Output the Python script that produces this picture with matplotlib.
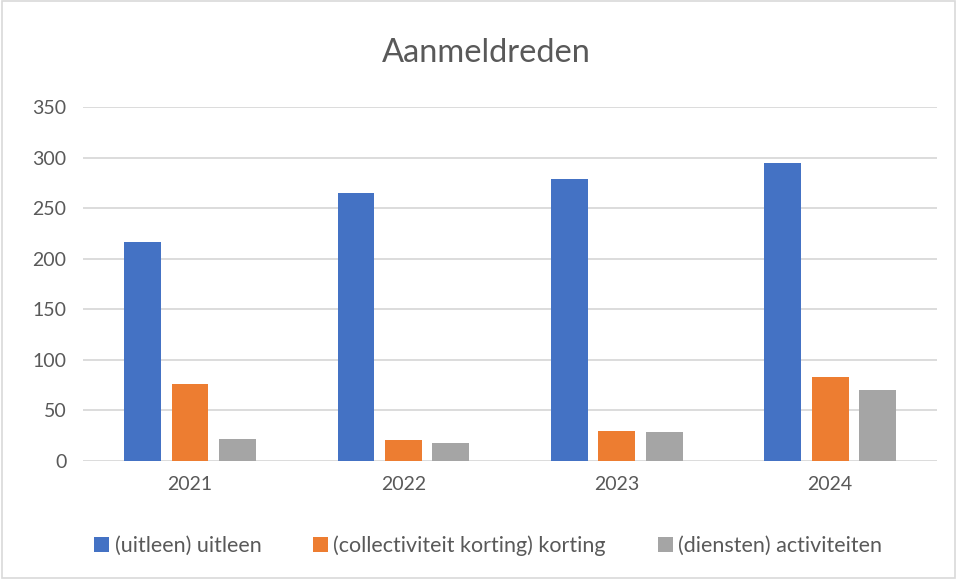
import numpy as np
import matplotlib.pyplot as plt

years = ["2021", "2022", "2023", "2024"]
uitleen = [217, 265, 279, 295]
korting = [76, 21, 30, 83]
activiteiten = [22, 18, 29, 70]
series_labels = ["(uitleen) uitleen", "(collectiviteit korting) korting", "(diensten) activiteiten"]
colors = ["#4472c4", "#ed7d31", "#a5a5a5"]

plt.rcParams['font.family'] = ['Lato', 'DejaVu Sans']
text_col = "#595959"

fig = plt.figure(figsize=(9.57, 5.79), dpi=100)
ax = fig.add_axes([0.087, 0.204, 0.892, 0.611])

x = np.arange(len(years))
w = 0.173
step = 0.222
for i, (vals, lab) in enumerate(zip([uitleen, korting, activiteiten], series_labels)):
    ax.bar(x + (i - 1) * step, vals, width=w, color=colors[i], label=lab, zorder=3)

ax.set_xlim(-0.5, len(years) - 0.5)
ax.set_ylim(0, 350)
ax.set_yticks(range(0, 351, 50))
ax.set_xticks(x)
ax.set_xticklabels(years)
ax.grid(axis='y', color="#d9d9d9", linewidth=1.3, zorder=0)
for s in ax.spines.values():
    s.set_visible(False)
ax.tick_params(axis='both', length=0, labelsize=14, colors=text_col, pad=11)
ax.tick_params(axis='y', pad=12)

fig.suptitle("Aanmeldreden", x=0.508, y=0.935, fontsize=23.5, color=text_col)

leg = fig.legend(loc='center', bbox_to_anchor=(0.51, 0.058), ncol=3, frameon=False,
                 fontsize=15.5, handlelength=0.7, handleheight=0.7, handletextpad=0.25,
                 columnspacing=2.4, labelcolor=text_col)

# rand om de grafiek
fig.patches.append(plt.Rectangle((0.002, 0.002), 0.996, 0.996, transform=fig.transFigure,
                                 fill=False, edgecolor="#d9d9d9", linewidth=1.2))

fig.savefig("out.png", dpi=100)
